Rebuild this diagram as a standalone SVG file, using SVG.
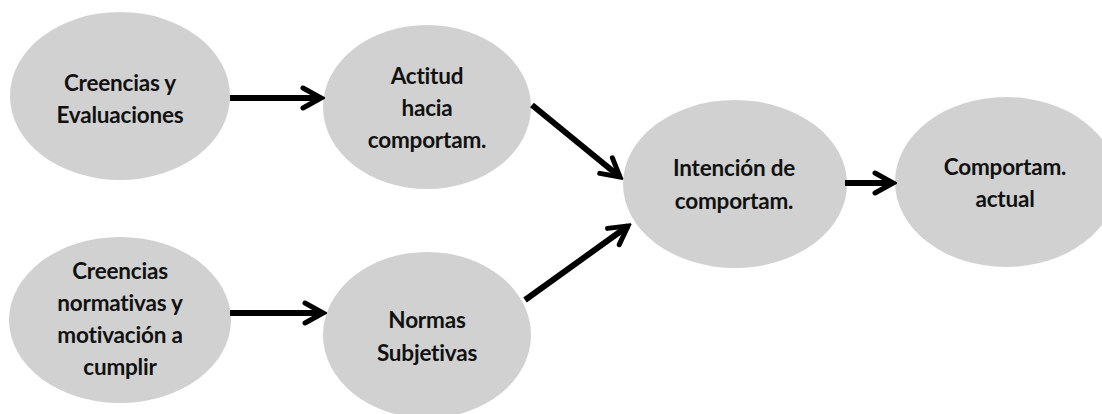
<svg xmlns="http://www.w3.org/2000/svg" width="1102" height="414" viewBox="0 0 1102 414">
  <style>
    .node ellipse { fill: #d1d1d1; }
    .node text { font-family: Lato, "Liberation Sans", sans-serif; font-weight: bold; font-size: 22.5px; fill: #111; text-anchor: middle; font-variant-ligatures: none; letter-spacing: -0.2px; }
    .edge { stroke: #000; stroke-width: 6; fill: none; }
  </style>
  <defs>
    <marker id="chevron" markerUnits="userSpaceOnUse" viewBox="-22 -14 26 28" refX="0" refY="0" markerWidth="26" markerHeight="28" orient="auto">
      <path d="M-18,-10 L0,0 L-18,10" fill="none" stroke="#000" stroke-width="5" stroke-linejoin="miter" stroke-linecap="round"/>
    </marker>
  </defs>

  <rect width="1102" height="414" fill="#fff"/>

  <g id="creencias-evaluaciones" class="node">
    <ellipse cx="120" cy="96" rx="110" ry="84"/>
    <text x="120" y="91">Creencias y</text>
    <text x="120" y="123">Evaluaciones</text>
  </g>

  <g id="actitud" class="node">
    <ellipse cx="427" cy="107" rx="104" ry="82"/>
    <text x="427" y="84">Actitud</text>
    <text x="427" y="116">hacia</text>
    <text x="427" y="148">comportam.</text>
  </g>

  <g id="creencias-normativas" class="node">
    <ellipse cx="120" cy="320" rx="111" ry="83"/>
    <text x="120" y="279">Creencias</text>
    <text x="120" y="311">normativas y</text>
    <text x="120" y="343">motivación a</text>
    <text x="120" y="375">cumplir</text>
  </g>

  <g id="normas" class="node">
    <ellipse cx="427" cy="335" rx="104" ry="83"/>
    <text x="427" y="328">Normas</text>
    <text x="427" y="361">Subjetivas</text>
  </g>

  <g id="intencion" class="node">
    <ellipse cx="735" cy="184" rx="112" ry="84"/>
    <text x="734" y="176">Intención de</text>
    <text x="734" y="209">comportam.</text>
  </g>

  <g id="comportamiento" class="node">
    <ellipse cx="1006" cy="182" rx="111" ry="85"/>
    <text x="1005" y="175">Comportam.</text>
    <text x="1005" y="207">actual</text>
  </g>

  <g id="connectors">
    <path class="edge" d="M230,98 L321,98" marker-end="url(#chevron)"/>
    <path class="edge" d="M230,313 L323,313" marker-end="url(#chevron)"/>
    <path class="edge" d="M532,105 L620,177" marker-end="url(#chevron)"/>
    <path class="edge" d="M525,300 L628,226" marker-end="url(#chevron)"/>
    <path class="edge" d="M845,183 L893,183" marker-end="url(#chevron)"/>
  </g>
</svg>
